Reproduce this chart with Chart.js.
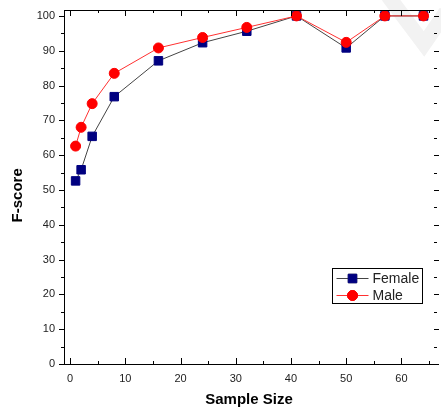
<!DOCTYPE html>
<html>
<head>
<meta charset="utf-8">
<script src="https://cdn.jsdelivr.net/npm/chart.js@4/dist/chart.umd.min.js"></script>
<style>
  html, body { margin: 0; padding: 0; background: #fff; }
  #wrap { width: 441px; height: 409px; }
</style>
</head>
<body>
<div id="wrap"><canvas id="line-chart" width="441" height="409"></canvas></div>
<script>
// sample sizes and F-scores per group
let sizes = [1, 2, 4, 8, 16, 24, 32, 41, 50, 57, 64];
let female = [52.6, 55.8, 65.4, 76.8, 87.1, 92.3, 95.6, 100, 90.8, 100, 100];
let male = [62.6, 68.0, 74.8, 83.5, 90.8, 93.8, 96.7, 100, 92.4, 100, 100];
let xTicks = [0, 10, 20, 30, 40, 50, 60];
let yTicks = [0, 10, 20, 30, 40, 50, 60, 70, 80, 90, 100];

const FONT = "'Liberation Sans', Arial, sans-serif";

function toPoints(ys) {
    return sizes.map(function (x, i) { return { x: x, y: ys[i] }; });
}

// ticks on all four sides, top frame line, legend box and the faint mark in the corner
const frame = {
    id: 'frame',
    beforeDatasetsDraw: function (chart) {
        const ctx = chart.ctx;
        ctx.save();
        ctx.strokeStyle = '#f2f2f2';
        ctx.lineWidth = 15;
        ctx.lineCap = 'butt';
        ctx.beginPath();
        ctx.moveTo(388, -4);
        ctx.lineTo(424, 44);
        ctx.lineTo(446, 12);
        ctx.stroke();
        ctx.restore();
    },
    afterDraw: function (chart) {
        const ctx = chart.ctx;
        const a = chart.chartArea;
        const xs = chart.scales.x, ys = chart.scales.y;
        ctx.save();
        ctx.strokeStyle = '#000';
        ctx.lineWidth = 1;
        ctx.beginPath();
        ctx.moveTo(a.left, a.top + 0.5);
        ctx.lineTo(a.right, a.top + 0.5);
        for (let v = 0; v <= 65; v += 5) {
            const px = Math.round(xs.getPixelForValue(v)) + 0.5;
            const len = v % 10 === 0 ? 6 : 3;
            ctx.moveTo(px, a.bottom);
            ctx.lineTo(px, a.bottom - len);
            ctx.moveTo(px, a.top);
            ctx.lineTo(px, a.top + len);
        }
        for (let v = 0; v <= 100; v += 5) {
            const py = Math.round(ys.getPixelForValue(v)) + 0.5;
            const len = v % 10 === 0 ? 5 : 3;
            ctx.moveTo(a.left, py);
            ctx.lineTo(a.left - len, py);
            ctx.moveTo(a.right, py);
            ctx.lineTo(a.right + len, py);
        }
        ctx.stroke();

        // legend
        const bx = 332.5, by = 268.5, bw = 90, bh = 35;
        ctx.fillStyle = '#fff';
        ctx.fillRect(bx, by, bw, bh);
        ctx.strokeRect(bx, by, bw, bh);
        ctx.font = '14px ' + FONT;
        ctx.textBaseline = 'middle';
        chart.data.datasets.forEach(function (ds, i) {
            const cy = by + 10 + i * 17;
            ctx.strokeStyle = ds.borderColor;
            ctx.lineWidth = 1;
            ctx.beginPath();
            ctx.moveTo(bx + 4, cy);
            ctx.lineTo(bx + 36, cy);
            ctx.stroke();
            Chart.helpers.drawPoint(ctx, {
                pointStyle: ds.pointStyle,
                radius: ds.pointRadius,
                borderWidth: 1
            }, bx + 20, cy);
            ctx.fillStyle = ds.pointBackgroundColor;
            ctx.strokeStyle = ds.pointBorderColor;
            ctx.fill();
            ctx.stroke();
            ctx.fillStyle = '#222';
            ctx.fillText(ds.label, bx + 40, cy + 1);
        });
        ctx.restore();
    }
};

function renderChart() {
    return new Chart(document.getElementById('line-chart'), {
        type: 'line',
        data: {
            datasets: [{
                label: 'Female',
                data: toPoints(female),
                borderColor: '#444',
                borderWidth: 1,
                pointStyle: 'rect',
                pointRadius: 6,
                pointBackgroundColor: '#000080',
                pointBorderColor: '#000080',
                pointBorderWidth: 1,
                order: 1
            }, {
                label: 'Male',
                data: toPoints(male),
                borderColor: '#ff3030',
                borderWidth: 1,
                pointStyle: 'circle',
                pointRadius: 5,
                pointBackgroundColor: '#ff0000',
                pointBorderColor: '#ff0000',
                pointBorderWidth: 1,
                order: 0
            }]
        },
        options: {
            responsive: false,
            animation: false,
            layout: { padding: { top: 10, right: 4, left: 0, bottom: 0 } },
            plugins: { legend: { display: false }, tooltip: { enabled: false } },
            scales: {
                x: {
                    type: 'linear',
                    min: -1.1,
                    max: 65.9,
                    afterFit: function (s) { s.height = 45; },
                    afterBuildTicks: function (s) { s.ticks = xTicks.map(function (v) { return { value: v }; }); },
                    grid: { display: false },
                    border: { color: '#000', width: 1 },
                    ticks: { color: '#222', font: { family: FONT, size: 11 }, padding: 0, maxRotation: 0 },
                    title: { display: true, text: 'Sample Size', color: '#000',
                        font: { family: FONT, size: 15, weight: 'bold' }, padding: { top: 0, bottom: 0 } }
                },
                y: {
                    min: 0,
                    max: 101.7,
                    afterFit: function (s) { s.width = 64; },
                    afterBuildTicks: function (s) { s.ticks = yTicks.map(function (v) { return { value: v }; }); },
                    grid: { display: false },
                    border: { color: '#000', width: 1 },
                    ticks: { color: '#222', font: { family: FONT, size: 11 }, padding: 1 },
                    title: { display: true, text: 'F-score    ', color: '#000',
                        font: { family: FONT, size: 15, weight: 'bold' }, padding: { top: 9, bottom: 0 } }
                }
            }
        },
        plugins: [frame]
    });
}

let chart = renderChart();
</script>
</body>
</html>
